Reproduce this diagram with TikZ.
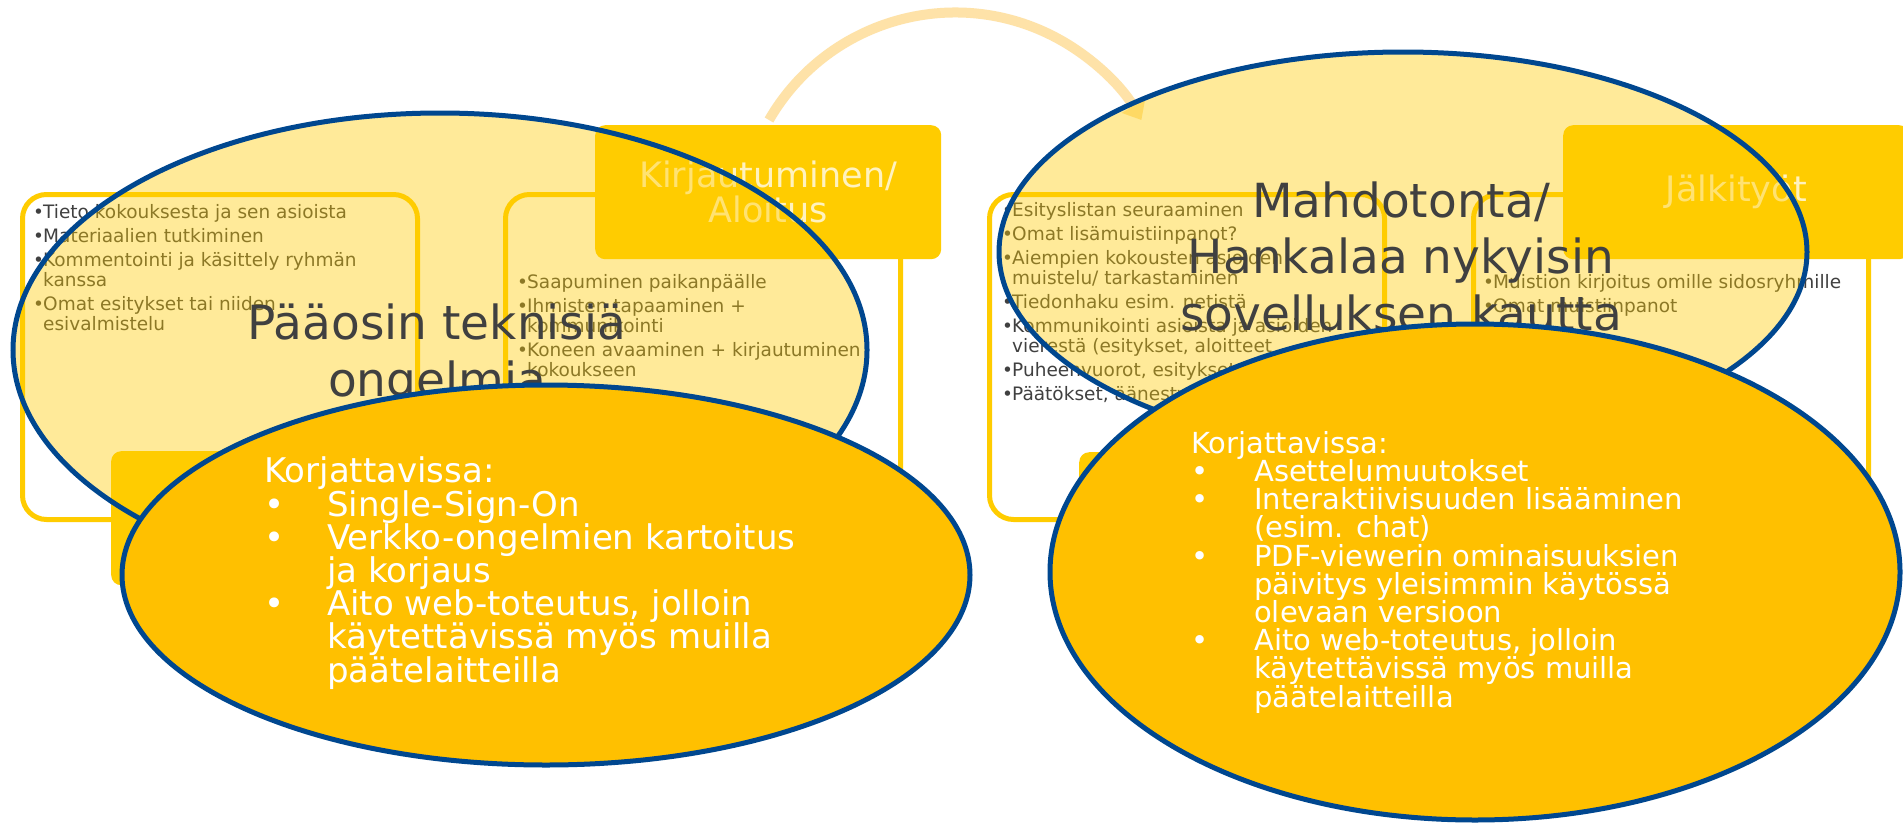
\documentclass[tikz,border=0pt]{standalone}
\usepackage{fontspec}
\setmainfont{DejaVu Sans}
\usetikzlibrary{arrows.meta,shapes.geometric}

\definecolor{giallo}{RGB}{255,204,0}
\definecolor{arancio}{RGB}{255,192,0}
\definecolor{blu}{RGB}{0,71,143}
\definecolor{pesca}{RGB}{254,226,168}
\definecolor{grigio}{RGB}{64,64,64}

\newcommand{\itembul}[1]{\makebox[#1][l]{\textbullet}}
\newcommand{\contind}[1]{\hspace*{#1}}

\begin{document}
\begin{tikzpicture}[x=1pt,y=-1pt,
  fase/.style={draw=giallo, line width=5pt, rounded corners=24pt, minimum width=395pt, minimum height=325pt, anchor=north west, inner sep=0pt},
  testata/.style={fill=giallo, rounded corners=10pt, minimum width=346pt, minimum height=134pt, anchor=north west, inner sep=0pt, text=white, text opacity=0.75, font=\fontsize{35}{35}\selectfont, align=center},
  voci/.style={anchor=base west, inner sep=0pt, text=grigio, align=left, font=\fontsize{18.5}{20}\selectfont},
  ovale/.style={ellipse, draw=blu, line width=5pt, inner sep=0pt},
  sopra/.style={ovale, fill=giallo, fill opacity=0.4},
  sotto/.style={ovale, fill=arancio},
  titolo/.style={anchor=base, inner sep=0pt, text=grigio, align=center, font=\fontsize{47}{56.5}\selectfont},
  nota/.style={anchor=base west, inner sep=0pt, text=white, align=left}
]

  % Parametri
  \def\rb{10pt} % rientro dei punti nei riquadri
  \def\ro{63pt} % rientro dei punti negli ovali

  % Sfondo
  \path[fill=white, use as bounding box] (0,0) rectangle (1903,822);

  % Riquadri delle fasi
  \node[fase] (f1) at (20,192) {};
  \node[fase] (f2) at (503,192) {};
  \node[fase] (f3) at (987,192) {};
  \node[fase] (f4) at (1471,192) {};

  % Testi dei riquadri (posizione = linea di base dell'ultima riga)
  \node[voci] (v1) at (33,330) {\itembul{\rb}Tieto kokouksesta ja sen asioista\\[4pt]
    \itembul{\rb}Materiaalien tutkiminen\\[4pt]
    \itembul{\rb}Kommentointi ja käsittely ryhmän\\
    \contind{\rb}kanssa\\[4pt]
    \itembul{\rb}Omat esitykset tai niiden\\
    \contind{\rb}esivalmistelu};
  \node[voci] (v2) at (517,376) {\itembul{\rb}Saapuminen paikanpäälle\\[4pt]
    \itembul{\rb}Ihmisten tapaaminen +\\
    \contind{\rb}kommunikointi\\[4pt]
    \itembul{\rb}Koneen avaaminen + kirjautuminen\\
    \contind{\rb}kokoukseen};
  \node[voci] (v3) at (1002,400) {\itembul{\rb}Esityslistan seuraaminen\\[4pt]
    \itembul{\rb}Omat lisämuistiinpanot?\\[4pt]
    \itembul{\rb}Aiempien kokousten asioiden\\
    \contind{\rb}muistelu/ tarkastaminen\\[4pt]
    \itembul{\rb}Tiedonhaku esim. netistä\\[4pt]
    \itembul{\rb}Kommunikointi asioista ja asioiden\\
    \contind{\rb}vierestä (esitykset, aloitteet\\[4pt]
    \itembul{\rb}Puheenvuorot, esitykset\\[4pt]
    \itembul{\rb}Päätökset, äänestykset};
  \node[voci] (v4) at (1483,312) {\itembul{\rb}Muistion kirjoitus omille sidosryhmille\\[4pt]
    \itembul{\rb}Omat muistiinpanot};

  % Testate
  \node[testata] (h1) at (111,451) {};
  \node[testata] (h2) at (595,125) {Kirjautuminen/\\Aloitus};
  \node[testata] (h3) at (1079,452) {};
  \node[testata] (h4) at (1563,125) {Jälkityöt};

  % Freccia ad arco
  \coordinate (a0) at (769,120);
  \draw[pesca, line width=10pt, -{Triangle[length=16pt,width=26pt]}] (a0) arc[start angle=-150, end angle=-30, radius=215];

  % Ovali superiori
  \node[sopra, minimum width=854pt, minimum height=474pt] (o1) at (440,350) {};
  \node[sopra, minimum width=808pt, minimum height=400pt] (o2) at (1403,252) {};
  \node[titolo] (t1) at (437,396) {Pääosin teknisiä\\ongelmia};
  \node[titolo] (t2) at (1401,330) {Mahdotonta/\\Hankalaa nykyisin\\sovelluksen kautta};

  % Ovali inferiori
  \node[sotto, minimum width=848pt, minimum height=380pt] (o3) at (546,575) {};
  \node[sotto, minimum width=850pt, minimum height=496pt] (o4) at (1475,572) {};

  \node[nota, font=\fontsize{34}{33.2}\selectfont] (n1) at (264,682) {Korjattavissa:\\
    \itembul{\ro}Single-Sign-On\\
    \itembul{\ro}Verkko-ongelmien kartoitus\\
    \contind{\ro}ja korjaus\\
    \itembul{\ro}Aito web-toteutus, jolloin\\
    \contind{\ro}käytettävissä myös muilla\\
    \contind{\ro}päätelaitteilla};
  \node[nota, font=\fontsize{29}{28.2}\selectfont] (n2) at (1191,707) {Korjattavissa:\\
    \itembul{\ro}Asettelumuutokset\\
    \itembul{\ro}Interaktiivisuuden lisääminen\\
    \contind{\ro}(esim. chat)\\
    \itembul{\ro}PDF-viewerin ominaisuuksien\\
    \contind{\ro}päivitys yleisimmin käytössä\\
    \contind{\ro}olevaan versioon\\
    \itembul{\ro}Aito web-toteutus, jolloin\\
    \contind{\ro}käytettävissä myös muilla\\
    \contind{\ro}päätelaitteilla};

\end{tikzpicture}
\end{document}
